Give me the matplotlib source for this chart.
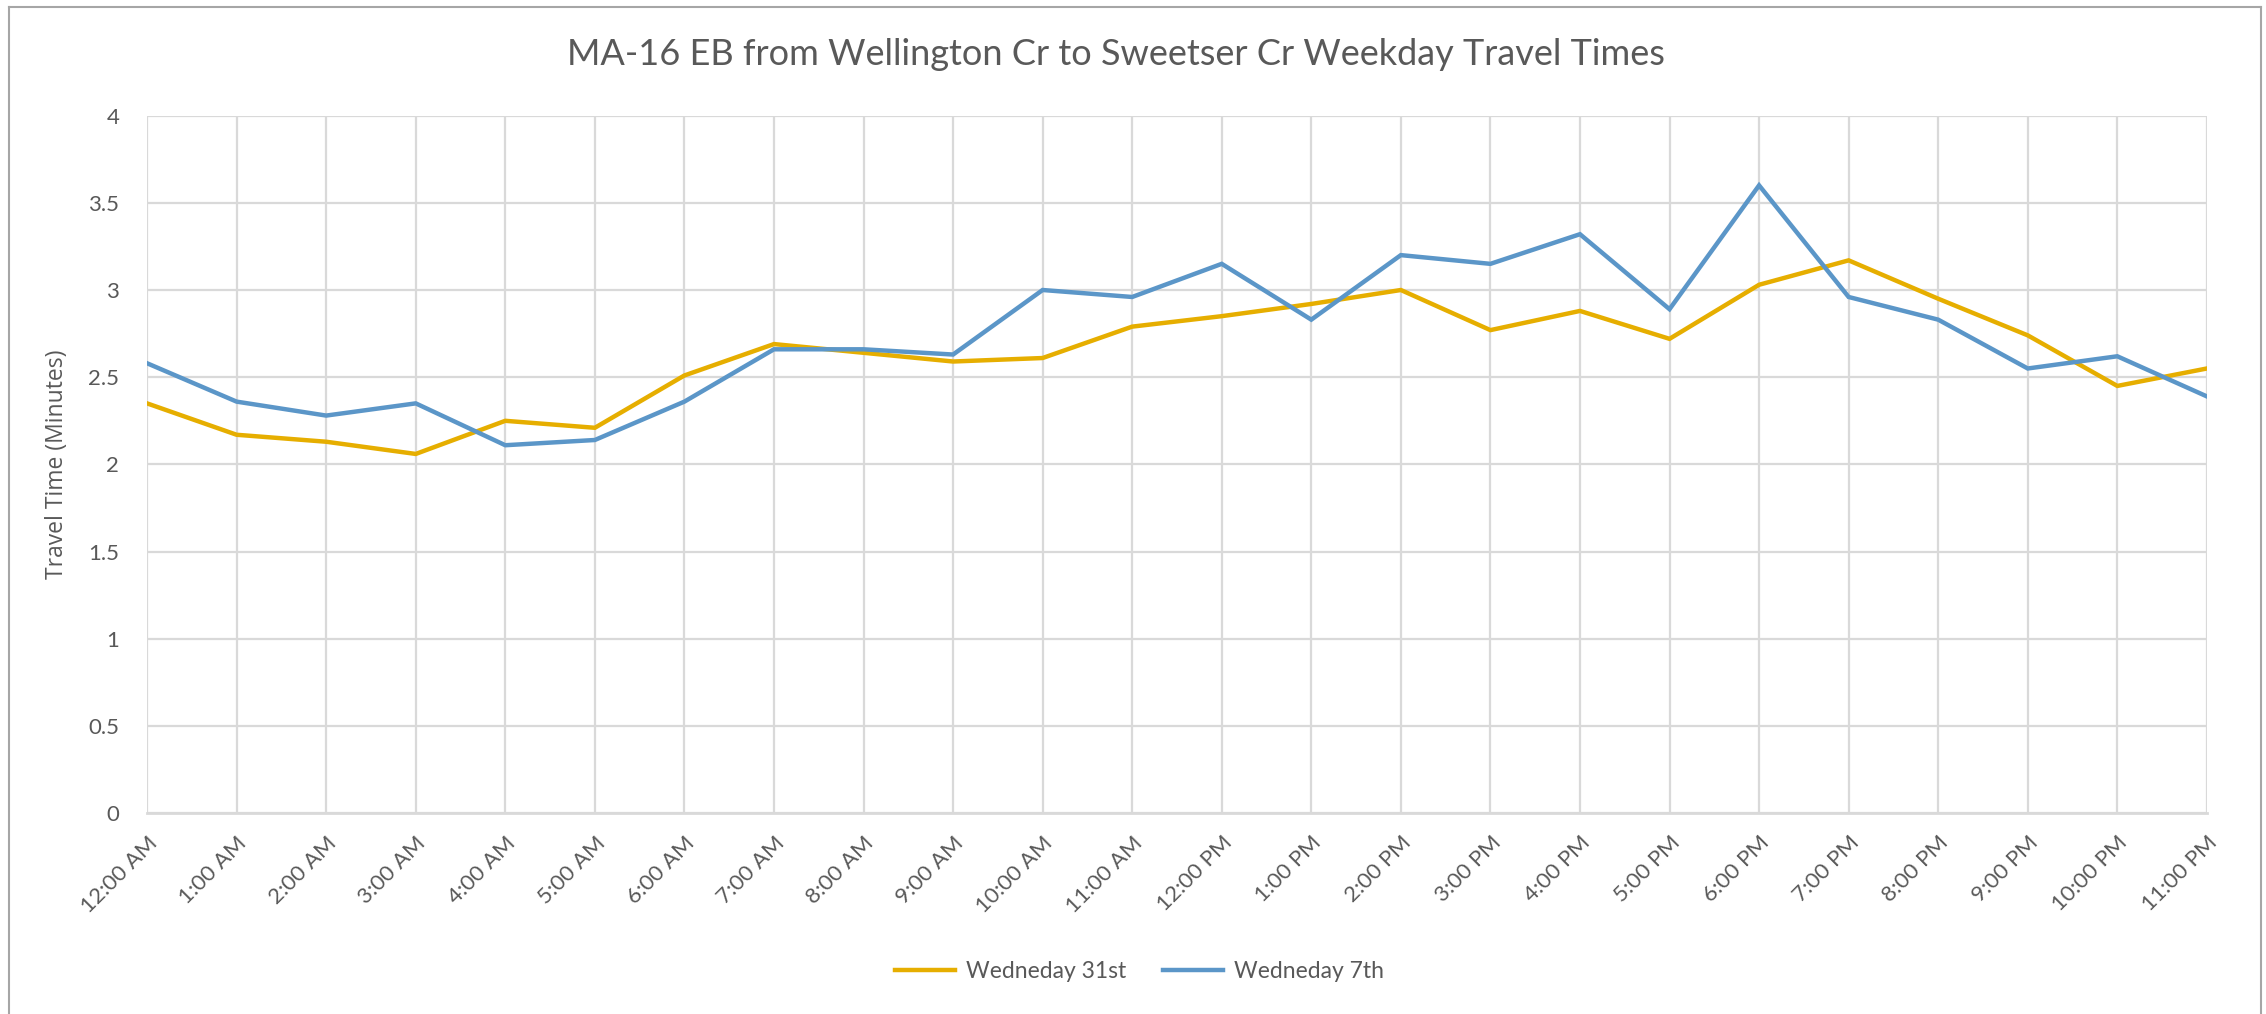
import matplotlib.pyplot as plt
from matplotlib.lines import Line2D

# --- Datos ---
horas = ["12:00 AM", "1:00 AM", "2:00 AM", "3:00 AM", "4:00 AM", "5:00 AM",
         "6:00 AM", "7:00 AM", "8:00 AM", "9:00 AM", "10:00 AM", "11:00 AM",
         "12:00 PM", "1:00 PM", "2:00 PM", "3:00 PM", "4:00 PM", "5:00 PM",
         "6:00 PM", "7:00 PM", "8:00 PM", "9:00 PM", "10:00 PM", "11:00 PM"]

wed_31st = [2.35, 2.17, 2.13, 2.06, 2.25, 2.21, 2.51, 2.69, 2.64, 2.59, 2.61, 2.79,
            2.85, 2.92, 3.00, 2.77, 2.88, 2.72, 3.03, 3.17, 2.95, 2.74, 2.45, 2.55]

wed_7th = [2.58, 2.36, 2.28, 2.35, 2.11, 2.14, 2.36, 2.66, 2.66, 2.63, 3.00, 2.96,
           3.15, 2.83, 3.20, 3.15, 3.32, 2.89, 3.60, 2.96, 2.83, 2.55, 2.62, 2.39]

yticks = [0, 0.5, 1, 1.5, 2, 2.5, 3, 3.5, 4]
ytick_labels = ["0", "0.5", "1", "1.5", "2", "2.5", "3", "3.5", "4"]

texto = "#595959"
rejilla = "#D9D9D9"

# --- Graficar ---
fig = plt.figure(figsize=(22.66, 10.14), dpi=100)
ax = fig.add_axes([0.0649, 0.198, 0.909, 0.688])

x = list(range(len(horas)))
ax.plot(x, wed_31st, color="#E6AE00", lw=3.2, label="Wedneday 31st", solid_joinstyle="miter")
ax.plot(x, wed_7th, color="#5B96C8", lw=3.2, label="Wedneday 7th", solid_joinstyle="miter")

ax.set_xlim(0, len(horas) - 1)
ax.set_ylim(0, 4)
ax.set_yticks(yticks)
ax.set_yticklabels(ytick_labels, fontfamily="Lato", fontsize=16, color=texto)
ax.set_xticks(x)
ax.set_xticklabels(horas, rotation=45, ha="right", rotation_mode="anchor",
                   fontfamily="Lato", fontsize=16, color=texto)
ax.tick_params(axis="both", length=0)
ax.tick_params(axis="y", pad=20)
ax.tick_params(axis="x", pad=14)

ax.grid(True, color=rejilla, lw=1.6)
ax.set_axisbelow(True)
for lado in ["top", "right", "left"]:
    ax.spines[lado].set_visible(False)
ax.spines["bottom"].set_color(rejilla)
ax.spines["bottom"].set_linewidth(2)

ax.set_ylabel("Travel Time (Minutes)", fontfamily="Open Sans", fontsize=16.5,
              color=texto, labelpad=14)

fig.text(0.4925, 0.946, "MA-16 EB from Wellington Cr to Sweetser Cr Weekday Travel Times",
         ha="center", va="center", fontfamily="Lato", fontsize=26, color=texto)

fig.legend(loc="center", bbox_to_anchor=(0.503, 0.042), ncol=2, frameon=False,
           prop={"family": "Lato", "size": 16.5}, labelcolor=texto,
           handlelength=2.6, columnspacing=1.6, handletextpad=0.5)

# --- Borde del grafico ---
borde = "#A6A6A6"
fig.add_artist(Line2D([0.004, 0.004], [0, 0.9935], color=borde, lw=1.5))
fig.add_artist(Line2D([0.004, 0.998], [0.9935, 0.9935], color=borde, lw=1.5))
fig.add_artist(Line2D([0.998, 0.998], [0, 0.9935], color=borde, lw=1.5))

fig.savefig("out.png", dpi=100)
